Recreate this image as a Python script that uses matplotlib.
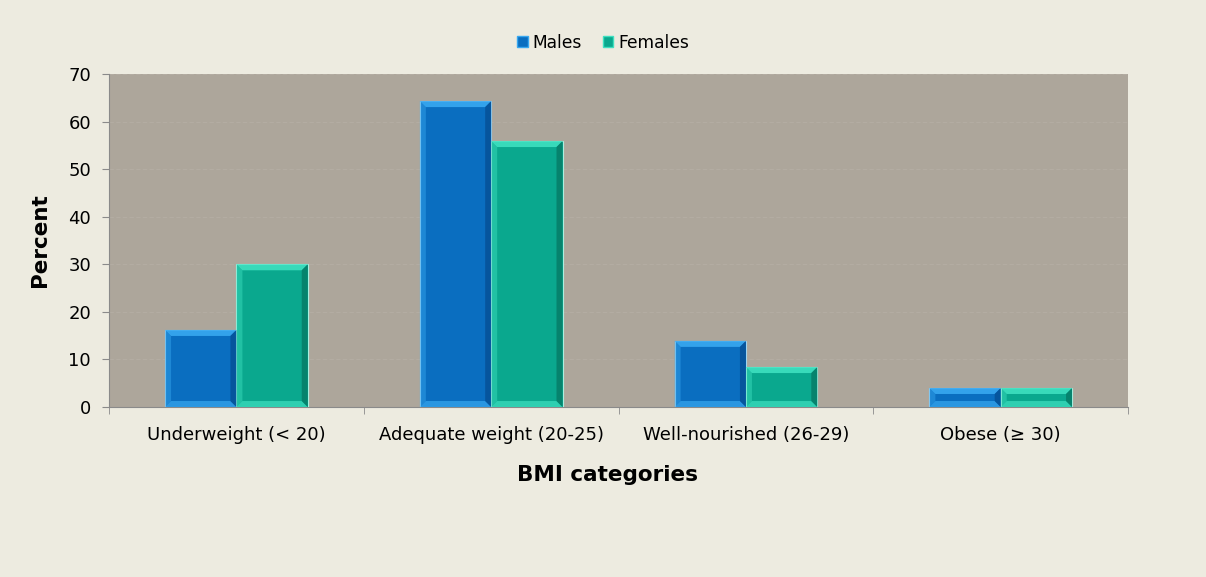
import matplotlib
matplotlib.use("Agg")
import matplotlib.pyplot as plt
from matplotlib.patches import Polygon, Patch
import numpy as np

categories = ["Underweight (< 20)", "Adequate weight (20-25)",
              "Well-nourished (26-29)", "Obese (\u2265 30)"]
males = [16.2, 64.3, 13.9, 4.0]
females = [30.0, 55.9, 8.4, 4.0]
yticks = [0, 10, 20, 30, 40, 50, 60, 70]

fig_bg = "#EDEBE0"
plot_bg = "#ADA69B"
male_col = "#0A6EC0"
male_light = "#38A8F0"
male_dark = "#06539A"
fem_col = "#0AA88E"
fem_light = "#3EE0C0"
fem_dark = "#067F6A"

plt.rcParams["font.family"] = ["DejaVu Sans"]

fig = plt.figure(figsize=(12.06, 5.77), dpi=100, facecolor=fig_bg)
ax = fig.add_axes([0.0904, 0.2946, 0.845, 0.5772])
ax.set_facecolor(plot_bg)

x = np.arange(len(categories))
w = 0.28
bm = ax.bar(x - w / 2, males, w, color=male_col, edgecolor="#9FD4F0", linewidth=0.8, zorder=3)
bf = ax.bar(x + w / 2, females, w, color=fem_col, edgecolor="#A8F0E0", linewidth=0.8, zorder=3)

ax.set_xlim(-0.5, len(categories) - 0.5)
ax.set_ylim(0, 70)
ax.set_yticks(yticks)
ax.set_xticks(x)
ax.set_xticklabels(categories, fontsize=13)
ax.set_xticks(np.arange(len(categories) + 1) - 0.5, minor=True)
ax.tick_params(axis="x", which="major", length=0, pad=13.5)
ax.tick_params(axis="x", which="minor", length=5, color="#8A8A8A")
ax.tick_params(axis="y", length=5, color="#8A8A8A", labelsize=13, pad=8)

ax.yaxis.grid(True, color="#B3ACA2", linestyle=(0, (4, 2)), linewidth=0.8, zorder=0)
ax.set_axisbelow(True)
for s in ["top", "right"]:
    ax.spines[s].set_visible(False)
ax.spines["left"].set_color("#8A8A8A")
ax.spines["bottom"].set_color("#8A8A8A")

ax.set_ylabel("Percent", fontsize=15.5, fontweight="bold", labelpad=13)
ax.set_xlabel("BMI categories", fontsize=15.5, fontweight="bold", labelpad=15)
ax.xaxis.set_label_coords(0.489, -0.175)

# Bevelled faces on each bar, computed in pixel space from the bar extents
fig.canvas.draw()
bev = 6.0


def bevel(rect, light, dark):
    x0, y0 = rect.get_x(), rect.get_y()
    x1, y1 = x0 + rect.get_width(), y0 + rect.get_height()
    (px0, py0), (px1, py1) = ax.transData.transform([(x0, y0), (x1, y1)])
    b = min(bev, (py1 - py0) / 2.0, (px1 - px0) / 2.0)
    faces = [
        ([(px0, py1), (px1, py1), (px1 - b, py1 - b), (px0 + b, py1 - b)], light, 0.9),
        ([(px0, py0), (px1, py0), (px1 - b, py0 + b), (px0 + b, py0 + b)], light, 0.7),
        ([(px0, py0), (px0, py1), (px0 + b, py1 - b), (px0 + b, py0 + b)], light, 0.45),
        ([(px1, py0), (px1, py1), (px1 - b, py1 - b), (px1 - b, py0 + b)], dark, 0.9),
    ]
    for pts, c, a in faces:
        fig.patches.append(Polygon(pts, closed=True, transform=None, facecolor=c,
                                   edgecolor="none", alpha=a, zorder=4, figure=fig))


for r in bm:
    bevel(r, male_light, male_dark)
for r in bf:
    bevel(r, fem_light, fem_dark)

handles = [Patch(facecolor=male_col, edgecolor=male_light, label="Males"),
           Patch(facecolor=fem_col, edgecolor=fem_light, label="Females")]
fig.legend(handles=handles, loc="center", bbox_to_anchor=(0.5, 0.926), ncol=2,
           frameon=False, fontsize=12.3, handlelength=0.6, handleheight=0.6,
           handletextpad=0.3, columnspacing=1.2)

fig.savefig("out.png", dpi=100, facecolor=fig_bg)
